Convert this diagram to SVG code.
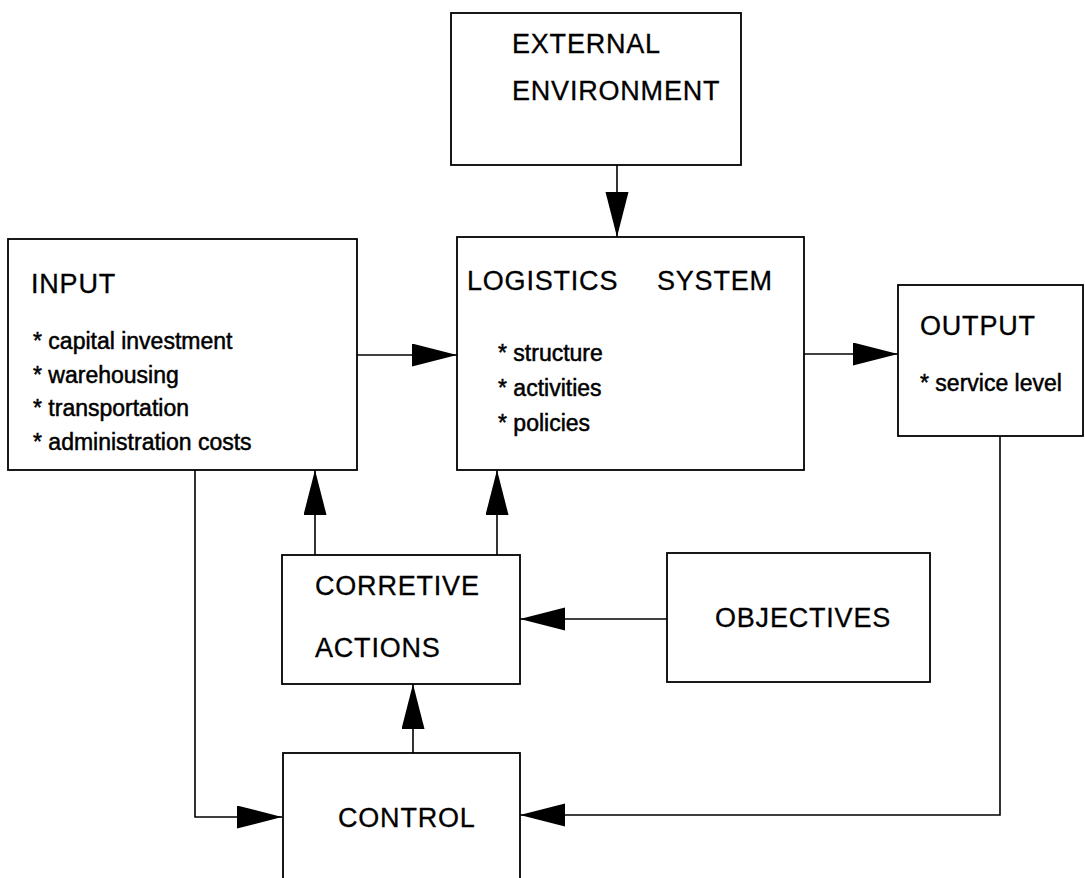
<svg xmlns="http://www.w3.org/2000/svg" width="1085" height="878" viewBox="0 0 1085 878">
<style>
.box{fill:#fff;stroke:#000;stroke-width:1.8}
.h{font-family:"Liberation Sans",Arial,sans-serif;font-size:27px;letter-spacing:0.8px;fill:#000;stroke:#000;stroke-width:0.3}
.it{font-family:"Liberation Sans",Arial,sans-serif;font-size:23px;fill:#000;stroke:#000;stroke-width:0.5}
.c{fill:none;stroke:#000;stroke-width:1.6}
</style>
<defs>
<marker id="ah" markerUnits="userSpaceOnUse" markerWidth="46" markerHeight="24" refX="45" refY="11.5" orient="auto">
<path d="M0,0 L45,11.5 L0,23 z" fill="#000"/>
</marker>
</defs>
<rect width="1085" height="878" fill="#fff"/>
<g id="connectors">
<line class="c" x1="617" y1="165" x2="617" y2="237" marker-end="url(#ah)"/>
<line class="c" x1="357" y1="355" x2="457" y2="355" marker-end="url(#ah)"/>
<line class="c" x1="804" y1="354" x2="898" y2="354" marker-end="url(#ah)"/>
<line class="c" x1="315" y1="555" x2="315" y2="470" marker-end="url(#ah)"/>
<line class="c" x1="497" y1="555" x2="497" y2="470" marker-end="url(#ah)"/>
<line class="c" x1="667" y1="619" x2="520" y2="619" marker-end="url(#ah)"/>
<line class="c" x1="413" y1="753" x2="413" y2="684" marker-end="url(#ah)"/>
<polyline class="c" points="195,470 195,817 282,817" marker-end="url(#ah)"/>
<polyline class="c" points="1000,436 1000,815 520,815" marker-end="url(#ah)"/>
</g>
<g id="external">
<rect class="box" x="451" y="13" width="290" height="152"/>
<text class="h" x="512" y="53">EXTERNAL</text>
<text class="h" x="512" y="100">ENVIRONMENT</text>
</g>
<g id="input">
<rect class="box" x="8" y="239" width="349" height="231"/>
<text class="h" x="31" y="293">INPUT</text>
<text class="it" x="33" y="349">* capital investment</text>
<text class="it" x="33" y="383">* warehousing</text>
<text class="it" x="33" y="416">* transportation</text>
<text class="it" x="33" y="450">* administration costs</text>
</g>
<g id="logistics">
<rect class="box" x="457" y="237" width="347" height="233"/>
<text class="h" x="467" y="290">LOGISTICS</text>
<text class="h" x="657" y="290">SYSTEM</text>
<text class="it" x="498" y="361">* structure</text>
<text class="it" x="498" y="396">* activities</text>
<text class="it" x="498" y="431">* policies</text>
</g>
<g id="output">
<rect class="box" x="898" y="285" width="185" height="151"/>
<text class="h" x="920" y="335">OUTPUT</text>
<text class="it" x="920" y="391">* service level</text>
</g>
<g id="corrective">
<rect class="box" x="282" y="555" width="238" height="129"/>
<text class="h" x="315" y="595">CORRETIVE</text>
<text class="h" x="315" y="657">ACTIONS</text>
</g>
<g id="objectives">
<rect class="box" x="667" y="553" width="263" height="129"/>
<text class="h" x="715" y="627">OBJECTIVES</text>
</g>
<g id="control">
<rect class="box" x="283" y="753" width="237" height="140"/>
<text class="h" x="338" y="827">CONTROL</text>
</g>
</svg>
